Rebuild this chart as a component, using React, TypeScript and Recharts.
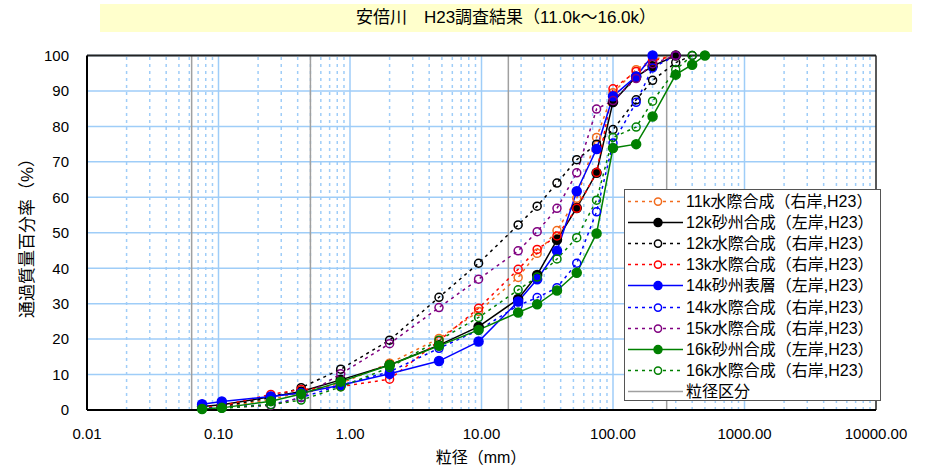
import React from 'react';
import { LineChart, Line, XAxis, YAxis, CartesianGrid, ReferenceLine } from 'recharts';

// Sieve openings (mm) shared by all samples
const sieveSizes = [0.075, 0.106, 0.25, 0.425, 0.85, 2, 4.75, 9.5, 19, 26.5, 37.5, 53, 75, 100, 150, 200, 300, 400, 500];

// Percent passing for each sample, aligned with sieveSizes (each ends where it reaches 100%)
const pass11kWater = [0.5, 0.8, 3.0, 5.0, 7.5, 13.2, 20.2, 27.8, 37.4, 44.2, 50.6, 59.7, 76.9, 89.5, 96.0, 99.0, 100];
const pass12kBar = [1.0, 1.5, 3.7, 5.2, 8.5, 12.7, 18.3, 23.5, 31.3, 38.1, 48.0, 57.0, 66.9, 86.9, 94.0, 97.0, 100];
const pass12kWater = [0.5, 1.0, 3.5, 6.3, 11.5, 19.7, 31.8, 41.4, 52.2, 57.5, 64.0, 70.6, 75.0, 79.1, 87.5, 93.0, 98.0, 100];
const pass13kWater = [0.8, 1.2, 4.4, 5.8, 6.6, 8.7, 19.5, 28.7, 39.7, 45.3, 49.1, 56.9, 67.0, 90.6, 95.5, 98.5, 100];
const pass14kBarSurface = [1.6, 2.4, 3.8, 4.8, 7.0, 10.2, 13.8, 19.3, 30.6, 36.9, 44.9, 61.7, 73.6, 88.5, 94.1, 100];
const pass14kWater = [0.5, 0.8, 1.5, 3.5, 7.0, 10.8, 17.4, 22.5, 29.5, 31.7, 34.5, 41.4, 55.9, 75.3, 86.8, 96.5, 100];
const pass15kWater = [0.3, 0.6, 1.3, 3.5, 10.2, 18.7, 28.9, 36.9, 44.9, 50.3, 56.9, 66.9, 84.9, 87.3, 93.5, 97.7, 100];
const pass16kBar = [0.3, 0.6, 2.5, 4.5, 8.0, 12.7, 18.1, 22.6, 27.5, 29.8, 33.7, 38.7, 49.8, 73.9, 75.0, 82.8, 94.6, 97.4, 100];
const pass16kWater = [0.3, 0.5, 1.5, 2.8, 6.5, 12.0, 19.7, 26.1, 33.9, 37.5, 42.6, 48.6, 59.2, 76.9, 79.8, 87.1, 96.0, 100];

const seriesNames = [
  '11k水際合成（右岸,H23）',
  '12k砂州合成（左岸,H23）',
  '12k水際合成（右岸,H23）',
  '13k水際合成（右岸,H23）',
  '14k砂州表層（左岸,H23）',
  '14k水際合成（右岸,H23）',
  '15k水際合成（右岸,H23）',
  '16k砂州合成（左岸,H23）',
  '16k水際合成（右岸,H23）',
];
const classLegendName = '粒径区分';

// Grain-size class boundaries (mm)
const classBoundaries = [0.0625, 0.5, 16, 256];

// Axis ticks
const xTicks = [0.01, 0.1, 1, 10, 100, 1000, 10000];
const yTicks = [0, 10, 20, 30, 40, 50, 60, 70, 80, 90, 100];
const majorDecades = [0.1, 1, 10, 100, 1000];
const minorDecades = [0.01, 0.1, 1, 10, 100, 1000];
const minorSteps = [2, 3, 4, 5, 6, 7, 8, 9];

const FONT = "'Liberation Sans', 'Noto Sans CJK JP', sans-serif";
const GRID = '#9fcdf8';

type Style = { color: string; filled: boolean; dashed: boolean };
const styles: Style[] = [
  { color: '#f26b1d', filled: false, dashed: true },
  { color: '#000000', filled: true, dashed: false },
  { color: '#000000', filled: false, dashed: true },
  { color: '#ff0000', filled: false, dashed: true },
  { color: '#0000ff', filled: true, dashed: false },
  { color: '#0000ff', filled: false, dashed: true },
  { color: '#800080', filled: false, dashed: true },
  { color: '#008000', filled: true, dashed: false },
  { color: '#008000', filled: false, dashed: true },
];

const seriesValues = [
  pass11kWater, pass12kBar, pass12kWater, pass13kWater, pass14kBarSurface,
  pass14kWater, pass15kWater, pass16kBar, pass16kWater,
];

const series = seriesValues.map((vals, i) => ({
  name: seriesNames[i],
  style: styles[i],
  data: vals.map((y, j) => ({ x: sieveSizes[j], y })),
}));

const minorLines = minorDecades.flatMap((d) => minorSteps.map((m) => +(d * m).toPrecision(3)));

function LegendBox() {
  const rowH = 21.1;
  return (
    <div
      style={{
        position: 'absolute',
        left: 624,
        top: 189,
        width: 257,
        height: 212,
        background: '#fff',
        border: '1px solid #555',
        boxSizing: 'border-box',
        fontFamily: FONT,
        fontSize: 16,
        color: '#000',
      }}
    >
      {series.map((s, i) => (
        <div key={s.name} style={{ position: 'absolute', left: 0, top: 1 + i * rowH, height: rowH, width: '100%' }}>
          <svg width={60} height={rowH} style={{ position: 'absolute', left: 0, top: 0 }}>
            <line
              x1={3}
              x2={58}
              y1={rowH / 2}
              y2={rowH / 2}
              stroke={s.style.color}
              strokeWidth={1.5}
              strokeDasharray={s.style.dashed ? '3 4' : undefined}
            />
            <circle
              cx={33}
              cy={rowH / 2}
              r={s.style.filled ? 4 : 3.6}
              fill={s.style.filled ? s.style.color : '#fff'}
              stroke={s.style.color}
              strokeWidth={1.5}
            />
          </svg>
          <span style={{ position: 'absolute', left: 61, top: 0, lineHeight: `${rowH}px`, whiteSpace: 'nowrap' }}>{s.name}</span>
        </div>
      ))}
      <div style={{ position: 'absolute', left: 0, top: 1 + 9 * rowH, height: rowH, width: '100%' }}>
        <svg width={60} height={rowH} style={{ position: 'absolute', left: 0, top: 0 }}>
          <line x1={3} x2={58} y1={rowH / 2} y2={rowH / 2} stroke="#a0a0a0" strokeWidth={1.5} />
        </svg>
        <span style={{ position: 'absolute', left: 61, top: 0, lineHeight: `${rowH}px`, whiteSpace: 'nowrap' }}>{classLegendName}</span>
      </div>
    </div>
  );
}

export default function App() {
  return (
    <div style={{ position: 'absolute', left: 0, top: 0, width: 926, height: 474, background: '#fff', fontFamily: FONT }}>
      <div
        style={{
          position: 'absolute',
          left: 100,
          top: 4,
          width: 812,
          height: 28,
          background: '#ffffcc',
          textAlign: 'center',
          lineHeight: '28px',
          fontSize: 17,
          color: '#000',
        }}
      >
        安倍川　H23調査結果（11.0k～16.0k）
      </div>

      <div style={{ position: 'absolute', left: 0, top: 0 }}>
        <LineChart width={926} height={474} margin={{ top: 55.5, right: 50, bottom: 34, left: 27 }}>
          <CartesianGrid vertical={false} stroke={GRID} strokeWidth={1.5} />
          {minorLines.map((v) => (
            <ReferenceLine key={`m${v}`} x={v} stroke={GRID} strokeWidth={1.5} strokeDasharray="3 4" />
          ))}
          {majorDecades.map((v) => (
            <ReferenceLine key={`M${v}`} x={v} stroke={GRID} strokeWidth={1.5} />
          ))}
          {classBoundaries.map((v) => (
            <ReferenceLine key={`c${v}`} x={v} stroke="#a0a0a0" strokeWidth={1.5} />
          ))}
          <ReferenceLine y={100} stroke="#222" strokeWidth={2} />
          <ReferenceLine x={10000} stroke="#222" strokeWidth={1.5} />
          <XAxis
            dataKey="x"
            type="number"
            scale="log"
            domain={[0.01, 10000]}
            ticks={xTicks}
            allowDataOverflow
            tickFormatter={(v: number) => v.toFixed(2)}
            tick={{ fontSize: 15, fill: '#000', fontFamily: FONT }}
            tickLine={false}
            tickSize={0}
            tickMargin={18}
            axisLine={{ stroke: '#000', strokeWidth: 2 }}
            height={30}
          />
          <YAxis
            type="number"
            domain={[0, 100]}
            ticks={yTicks}
            interval={0}
            tick={{ fontSize: 15, fill: '#000', fontFamily: FONT }}
            tickLine={false}
            tickSize={0}
            tickMargin={18}
            axisLine={{ stroke: '#000', strokeWidth: 2 }}
            width={60}
          />
          {series.map((s) => (
            <Line
              key={s.name}
              data={s.data}
              dataKey="y"
              name={s.name}
              type="linear"
              stroke={s.style.color}
              strokeWidth={1.5}
              strokeDasharray={s.style.dashed ? '3 4' : undefined}
              dot={{
                r: s.style.filled ? 4.5 : 4,
                fill: s.style.filled ? s.style.color : 'none',
                stroke: s.style.color,
                strokeWidth: 1.5,
                strokeDasharray: '',
              }}
              activeDot={false}
              isAnimationActive={false}
            />
          ))}
        </LineChart>
      </div>

      <div
        style={{
          position: 'absolute',
          left: 25,
          top: 234,
          transform: 'translate(-50%, -50%) rotate(-90deg)',
          whiteSpace: 'nowrap',
          fontSize: 17,
          color: '#000',
        }}
      >
        通過質量百分率（%）
      </div>
      <div
        style={{
          position: 'absolute',
          left: 481,
          top: 456,
          transform: 'translate(-50%, -50%)',
          whiteSpace: 'nowrap',
          fontSize: 16,
          color: '#000',
        }}
      >
        粒径（mm）
      </div>

      <LegendBox />
    </div>
  );
}
